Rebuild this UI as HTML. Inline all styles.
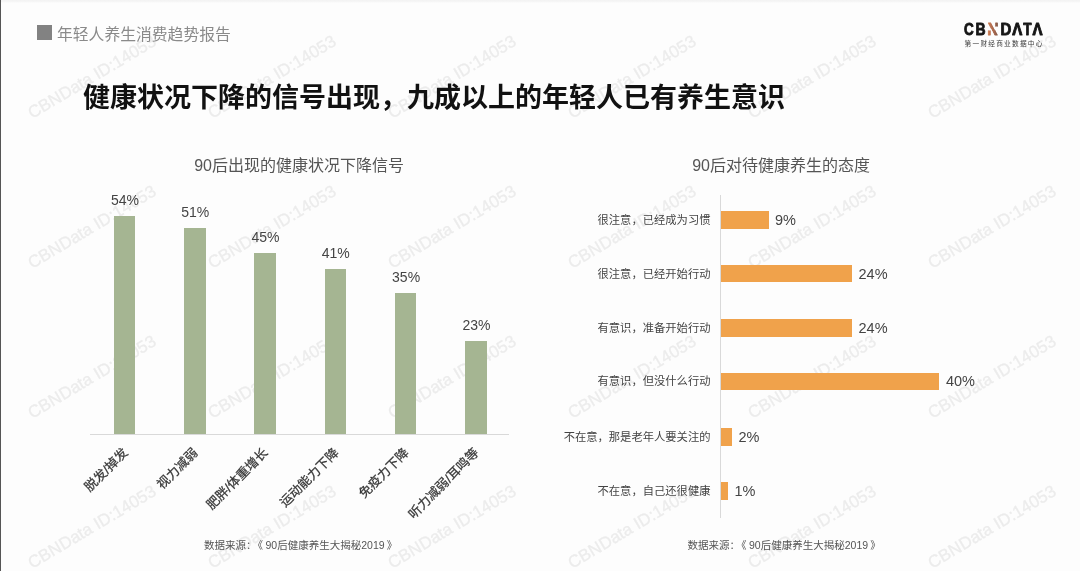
<!DOCTYPE html>
<html lang="zh-CN">
<head>
<meta charset="utf-8">
<title>年轻人养生消费趋势报告</title>
<style>
html,body{margin:0;padding:0;}
body{width:1080px;height:571px;overflow:hidden;background:#fdfdfd;position:relative;
  font-family:"Liberation Sans","Noto Sans CJK SC",sans-serif;color:#444;}
.abs{position:absolute;white-space:nowrap;line-height:1;}
.edge-l{position:absolute;left:0;top:0;width:1px;height:571px;background:#555;}
.edge-t{position:absolute;left:0;top:0;width:1080px;height:3px;background:linear-gradient(#f3f3f3,#f6f6f6 55%,#fdfdfd);}
/* watermark */
.wm{position:absolute;white-space:nowrap;line-height:1;font-size:17px;color:#ececec;-webkit-text-stroke:0.3px #ececec;
  transform:translate(-50%,-50%) rotate(-30.8deg);font-family:"Liberation Sans",sans-serif;}
/* header */
.sq{position:absolute;left:37px;top:25px;width:15px;height:15px;background:#828282;}
.hdr{left:57px;top:26.5px;font-size:15.8px;color:#8a8a8a;}
.title{left:83px;top:84.5px;font-size:27px;font-weight:700;color:#111;}
/* logo */
.logo{position:absolute;left:955px;top:15px;}
/* charts */
.ctitle{font-size:16px;color:#555;transform:translateX(-50%);}
.bar{position:absolute;background:#a5b592;width:21.6px;}
.val{font-size:14px;color:#444;transform:translateX(-50%);}
.xl{font-size:12.8px;color:#363636;-webkit-text-stroke:0.25px #363636;transform-origin:100% 50%;transform:translate(-100%,-50%) rotate(-45deg);}
.axis-h{position:absolute;left:90px;top:433.5px;width:419px;height:1px;background:#d9d9d9;}
.axis-v{position:absolute;left:720px;top:194.5px;width:1px;height:323.5px;background:#d9d9d9;}
.hbar{position:absolute;left:721px;height:17.4px;background:#f0a24b;}
.hl{font-size:11.3px;color:#444;transform:translate(-100%,-50%);left:710.5px;}
.hv{font-size:14.5px;color:#444;transform:translateY(-50%);}
.src{font-size:10.5px;color:#555;}
.q1{margin:0 2.6px 0 1.2px;}
.q2{margin-left:2.2px;}
</style>
</head>
<body>
<div class="edge-t"></div><div class="edge-l"></div>
<!--WM0-->
<div class="wm" style="left:91.5px;top:77px">CBNData ID:14053</div>
<div class="wm" style="left:271.5px;top:77px">CBNData ID:14053</div>
<div class="wm" style="left:451.5px;top:77px">CBNData ID:14053</div>
<div class="wm" style="left:631.5px;top:77px">CBNData ID:14053</div>
<div class="wm" style="left:811.5px;top:77px">CBNData ID:14053</div>
<div class="wm" style="left:991.5px;top:77px">CBNData ID:14053</div>
<div class="wm" style="left:91.5px;top:227px">CBNData ID:14053</div>
<div class="wm" style="left:271.5px;top:227px">CBNData ID:14053</div>
<div class="wm" style="left:451.5px;top:227px">CBNData ID:14053</div>
<div class="wm" style="left:631.5px;top:227px">CBNData ID:14053</div>
<div class="wm" style="left:811.5px;top:227px">CBNData ID:14053</div>
<div class="wm" style="left:991.5px;top:227px">CBNData ID:14053</div>
<div class="wm" style="left:91.5px;top:377px">CBNData ID:14053</div>
<div class="wm" style="left:271.5px;top:377px">CBNData ID:14053</div>
<div class="wm" style="left:451.5px;top:377px">CBNData ID:14053</div>
<div class="wm" style="left:631.5px;top:377px">CBNData ID:14053</div>
<div class="wm" style="left:811.5px;top:377px">CBNData ID:14053</div>
<div class="wm" style="left:991.5px;top:377px">CBNData ID:14053</div>
<div class="wm" style="left:91.5px;top:527px">CBNData ID:14053</div>
<div class="wm" style="left:271.5px;top:527px">CBNData ID:14053</div>
<div class="wm" style="left:451.5px;top:527px">CBNData ID:14053</div>
<div class="wm" style="left:631.5px;top:527px">CBNData ID:14053</div>
<div class="wm" style="left:811.5px;top:527px">CBNData ID:14053</div>
<div class="wm" style="left:991.5px;top:527px">CBNData ID:14053</div>
<!--WM1-->
<div class="sq"></div>
<div class="abs hdr">年轻人养生消费趋势报告</div>
<div class="abs title">健康状况下降的信号出现，九成以上的年轻人已有养生意识</div>
<!--G0-->
<svg class="logo" width="95" height="40" viewBox="0 0 95 40">
<defs>
<clipPath id="nclip"><polygon points="32.37,7 35.85,7 43.33,21 39.8,21"/><rect x="32.2" y="15.6" width="3.9" height="5.4"/><rect x="40.2" y="7" width="3.2" height="4.5"/></clipPath>
<linearGradient id="ngrad" gradientUnits="userSpaceOnUse" x1="0.7" y1="0" x2="11.4" y2="0"><stop offset="0" stop-color="#d07e52"/><stop offset="0.35" stop-color="#b46e50"/><stop offset="0.7" stop-color="#a0644b"/><stop offset="1" stop-color="#7c5648"/></linearGradient>
</defs>
<g font-family="Liberation Sans, sans-serif" font-weight="700" font-size="16.54" fill="#161616" stroke="#161616" stroke-width="0.9" stroke-linejoin="round">
<text transform="translate(8.90 19.75) scale(0.815 1)">C</text>
<text transform="translate(20.51 19.75) scale(0.844 1)">B</text>
<g clip-path="url(#nclip)"><text transform="translate(32.31 19.75) scale(0.937 1)" fill="url(#ngrad)" stroke="url(#ngrad)">N</text></g>
<text transform="translate(45.54 19.75) scale(0.909 1)">D</text>
<text transform="translate(57.34 19.75) scale(0.909 1)">Λ</text>
<text transform="translate(68.30 19.75) scale(0.823 1)">T</text>
<text transform="translate(77.54 19.75) scale(0.909 1)">Λ</text>
</g>
<text x="9.6" y="30.9" font-family="Noto Sans CJK SC, sans-serif" font-size="6.7" fill="#3a3a3a" textLength="77.8">第一财经商业数据中心</text>
</svg>
<!--G1-->
<!--L0-->
<div class="abs ctitle" style="left:299.1px;top:158.4px">90后出现的健康状况下降信号</div>
<div class="axis-h"></div>
<div class="bar" style="left:113.7px;top:216px;height:218px"></div>
<div class="abs val" style="left:124.9px;top:192.9px">54%</div>
<div class="abs xl" style="left:125.7px;top:450.5px">脱发/掉发</div>
<div class="bar" style="left:184.0px;top:228px;height:206px"></div>
<div class="abs val" style="left:195.2px;top:204.9px">51%</div>
<div class="abs xl" style="left:196.0px;top:450.5px">视力减弱</div>
<div class="bar" style="left:254.3px;top:253px;height:181px"></div>
<div class="abs val" style="left:265.5px;top:229.9px">45%</div>
<div class="abs xl" style="left:266.3px;top:450.5px">肥胖/体重增长</div>
<div class="bar" style="left:324.6px;top:269px;height:165px"></div>
<div class="abs val" style="left:335.8px;top:245.9px">41%</div>
<div class="abs xl" style="left:336.6px;top:450.5px">运动能力下降</div>
<div class="bar" style="left:394.9px;top:293px;height:141px"></div>
<div class="abs val" style="left:406.1px;top:269.9px">35%</div>
<div class="abs xl" style="left:406.9px;top:450.5px">免疫力下降</div>
<div class="bar" style="left:465.2px;top:341px;height:93px"></div>
<div class="abs val" style="left:476.4px;top:317.9px">23%</div>
<div class="abs xl" style="left:477.2px;top:450.5px">听力减弱/耳鸣等</div>
<div class="abs src" style="left:204px;top:540px">数据来源：<span class="q1">《</span>90后健康养生大揭秘2019<span class="q2">》</span></div>
<!--L1-->
<!--R0-->
<div class="abs ctitle" style="left:781.1px;top:158.4px">90后对待健康养生的态度</div>
<div class="axis-v"></div>
<div class="hbar" style="top:211.2px;width:47.5px"></div>
<div class="abs hl" style="top:220.7px">很注意，已经成为习惯</div>
<div class="abs hv" style="left:775.0px;top:219.7px">9%</div>
<div class="hbar" style="top:265.1px;width:131px"></div>
<div class="abs hl" style="top:274.6px">很注意，已经开始行动</div>
<div class="abs hv" style="left:858.5px;top:273.6px">24%</div>
<div class="hbar" style="top:319.3px;width:131px"></div>
<div class="abs hl" style="top:328.8px">有意识，准备开始行动</div>
<div class="abs hv" style="left:858.5px;top:327.8px">24%</div>
<div class="hbar" style="top:372.8px;width:218.4px"></div>
<div class="abs hl" style="top:382.3px">有意识，但没什么行动</div>
<div class="abs hv" style="left:945.9px;top:381.3px">40%</div>
<div class="hbar" style="top:428.2px;width:11px"></div>
<div class="abs hl" style="top:437.7px">不在意，那是老年人要关注的</div>
<div class="abs hv" style="left:738.5px;top:436.7px">2%</div>
<div class="hbar" style="top:482.3px;width:7px"></div>
<div class="abs hl" style="top:491.8px">不在意，自己还很健康</div>
<div class="abs hv" style="left:734.5px;top:490.8px">1%</div>
<div class="abs src" style="left:687.5px;top:540px">数据来源：<span class="q1">《</span>90后健康养生大揭秘2019<span class="q2">》</span></div>
<!--R1-->
</body>
</html>
